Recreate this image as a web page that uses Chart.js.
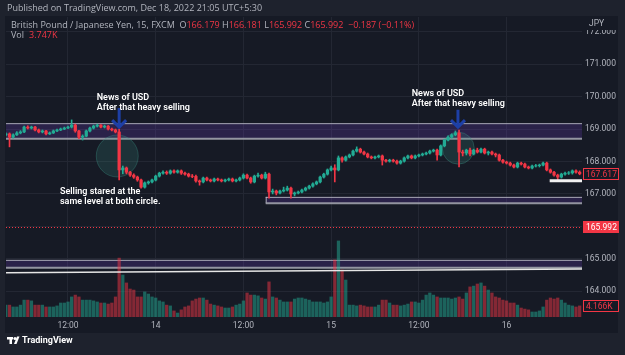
<!DOCTYPE html>
<html>
<head>
<meta charset="utf-8">
<script src="https://cdn.jsdelivr.net/npm/chart.js@4.4.0/dist/chart.umd.min.js"></script>
<style>
  html, body { margin: 0; padding: 0; background: #1e222d; }
  #c { display: block; }
</style>
</head>
<body>
<canvas id="c" width="625" height="355"></canvas>
<script>
var FONT = 'Roboto, "Liberation Sans", sans-serif';
var HEAD_FONT = '"Open Sans", Roboto, sans-serif';

// GBP/JPY, 30 minute candles, starting Dec 13 03:30 (hours counted from Dec 13 00:00)
var startHour = 3.5;
var stepHour = 0.5;

var opens = [168.82,168.85,168.75,168.82,168.88,168.91,169.06,169.03,169.06,168.97,
  168.91,168.94,168.85,168.88,168.94,168.97,169.00,169.03,169.06,169.12,
  168.94,168.75,168.78,168.94,169.03,169.09,169.12,169.06,169.09,169.00,
  168.97,168.91,167.74,167.80,167.67,167.58,167.52,167.43,167.21,167.34,
  167.37,167.43,167.55,167.64,167.67,167.64,167.71,167.67,167.71,167.64,
  167.61,167.55,167.54,167.40,167.37,167.49,167.43,167.40,167.46,167.43,
  167.40,167.43,167.46,167.40,167.43,167.49,167.58,167.49,167.37,167.55,
  167.58,167.49,167.61,167.06,167.09,167.03,167.09,167.12,167.18,167.00,
  167.03,167.06,167.12,167.18,167.24,167.31,167.37,167.52,167.61,167.74,
  167.80,167.74,168.11,168.04,168.14,168.20,168.32,168.38,168.29,168.23,
  168.14,168.11,168.14,168.17,168.04,168.01,168.04,168.01,167.95,168.01,
  168.11,168.17,168.11,168.17,168.20,168.23,168.26,168.32,168.35,168.20,
  168.48,168.66,168.75,168.82,168.88,168.29,168.26,168.35,168.23,168.35,
  168.29,168.38,168.26,168.29,168.23,168.20,168.04,167.98,167.95,167.89,
  167.83,167.95,167.92,167.83,167.80,167.86,167.87,167.89,167.95,167.74,
  167.67,167.58,167.52,167.61,167.64,167.65,167.71,167.67];

var highs = [168.88,168.88,168.85,168.92,168.95,169.09,169.10,169.09,169.08,169.00,
  168.97,168.96,168.91,168.97,169.00,169.03,169.06,169.09,169.28,169.15,
  168.96,168.82,168.97,169.06,169.12,169.15,169.14,169.12,169.11,169.03,
  169.00,169.00,167.86,167.83,167.70,167.62,167.55,167.46,167.37,167.40,
  167.46,167.58,167.67,167.71,167.71,167.74,167.74,167.74,167.74,167.67,
  167.64,167.60,167.58,167.43,167.52,167.52,167.46,167.49,167.49,167.46,
  167.46,167.49,167.49,167.46,167.52,167.62,167.61,167.52,167.58,167.64,
  167.61,167.67,167.64,167.15,167.12,167.12,167.21,167.24,167.21,167.06,
  167.09,167.15,167.21,167.27,167.34,167.40,167.55,167.64,167.77,167.86,
  167.90,168.17,168.14,168.17,168.23,168.35,168.45,168.41,168.32,168.26,
  168.17,168.17,168.20,168.20,168.07,168.07,168.07,168.04,168.04,168.14,
  168.20,168.20,168.20,168.23,168.26,168.29,168.35,168.38,168.38,168.51,
  168.69,168.79,168.85,168.94,168.97,168.35,168.38,168.41,168.38,168.41,
  168.41,168.41,168.32,168.32,168.26,168.23,168.07,168.01,167.98,167.92,
  167.98,167.98,167.95,167.86,167.89,167.91,167.92,167.98,167.98,167.77,
  167.70,167.61,167.64,167.67,167.69,167.74,167.74,167.71];

var lows = [168.79,168.45,168.72,168.80,168.85,168.89,169.00,169.00,168.94,168.88,
  168.88,168.82,168.83,168.86,168.92,168.95,168.98,169.01,169.03,168.90,
  168.70,168.66,168.76,168.91,169.00,169.06,169.03,169.03,168.97,168.94,
  168.88,167.43,167.62,167.62,167.54,167.48,167.39,167.18,167.18,167.30,
  167.34,167.40,167.52,167.61,167.60,167.61,167.64,167.64,167.60,167.58,
  167.52,167.50,167.36,167.27,167.34,167.40,167.37,167.37,167.40,167.37,
  167.37,167.40,167.37,167.37,167.40,167.46,167.46,167.33,167.34,167.52,
  167.46,167.46,166.87,167.00,166.97,167.00,167.06,167.09,166.87,166.94,
  167.00,167.03,167.09,167.15,167.21,167.28,167.34,167.49,167.58,167.71,
  167.37,167.71,167.98,168.01,168.11,168.17,168.29,168.26,168.20,168.11,
  168.08,168.08,168.11,167.89,167.98,167.98,167.98,167.92,167.92,167.98,
  168.08,168.08,168.08,168.14,168.17,168.20,168.23,168.29,168.04,168.17,
  168.45,168.63,168.72,168.79,167.83,168.17,168.20,168.17,168.20,168.26,
  168.26,168.23,168.20,168.20,168.14,168.01,167.95,167.92,167.86,167.80,
  167.80,167.89,167.80,167.77,167.77,167.83,167.83,167.86,167.71,167.64,
  167.55,167.40,167.49,167.58,167.60,167.61,167.64,167.59];

var closes = [168.85,168.75,168.82,168.88,168.91,169.06,169.03,169.06,168.97,168.91,
  168.94,168.85,168.88,168.94,168.97,169.00,169.03,169.06,169.12,168.94,
  168.75,168.78,168.94,169.03,169.09,169.12,169.06,169.09,169.00,168.97,
  168.91,167.74,167.80,167.67,167.58,167.52,167.43,167.21,167.34,167.37,
  167.43,167.55,167.64,167.67,167.64,167.71,167.67,167.71,167.64,167.61,
  167.55,167.54,167.40,167.37,167.49,167.43,167.40,167.46,167.43,167.40,
  167.43,167.46,167.40,167.43,167.49,167.58,167.49,167.37,167.55,167.58,
  167.49,167.61,167.06,167.09,167.03,167.09,167.12,167.18,167.00,167.03,
  167.06,167.12,167.18,167.24,167.31,167.37,167.52,167.61,167.74,167.80,
  167.74,168.11,168.04,168.14,168.20,168.32,168.38,168.29,168.23,168.14,
  168.11,168.14,168.17,168.04,168.01,168.04,168.01,167.95,168.01,168.11,
  168.17,168.11,168.17,168.20,168.23,168.26,168.32,168.35,168.20,168.48,
  168.66,168.75,168.82,168.88,168.29,168.26,168.35,168.23,168.35,168.29,
  168.38,168.26,168.29,168.23,168.20,168.04,167.98,167.95,167.89,167.83,
  167.95,167.92,167.83,167.80,167.86,167.87,167.89,167.95,167.74,167.67,
  167.58,167.52,167.61,167.64,167.65,167.71,167.67,167.62];

// volume in thousands
var volumes = [4.5,4.5,3.8,3.8,4.5,6.4,6.4,6.1,4.5,4.5,
  4.5,3.8,3.8,3.8,4.2,5.3,5.3,5.7,7.6,8.3,
  7.6,6.4,6.4,6.4,6.1,5.7,5.3,5.3,4.9,5.3,
  7.6,22.3,15.9,12.9,10.6,10.2,7.6,7.6,9.5,8.7,
  7.6,7.2,6.1,5.7,4.5,4.2,2.3,1.5,2.7,3.8,
  4.2,6.1,6.8,7.2,7.2,6.4,4.9,4.5,4.2,3.8,
  3.4,3.4,3.8,4.5,4.9,6.1,9.1,8.3,8.3,8.0,
  7.2,6.8,13.3,7.6,7.2,6.4,5.7,5.7,5.7,6.8,
  7.2,7.2,6.8,6.4,5.7,5.7,5.7,5.3,5.7,7.6,
  21.6,28.8,17.8,14.0,4.5,4.5,4.2,4.5,4.2,3.8,
  3.8,3.8,4.5,6.4,6.4,5.3,4.5,4.5,4.2,4.5,
  4.9,5.7,5.7,5.3,6.4,8.3,9.1,8.3,7.6,7.2,
  7.2,7.2,6.8,7.2,7.6,6.8,9.1,11.4,11.7,12.5,
  12.9,11.7,10.2,9.1,7.6,7.2,6.4,6.1,5.3,5.3,
  4.5,3.4,3.0,2.7,1.9,1.9,2.3,3.8,6.4,7.2,
  6.8,7.2,6.4,5.3,4.5,4.2,3.8,4.2];

var priceTicks = [164, 165, 166, 167, 168, 169, 170, 171, 172];
var timeTickHours = [12, 24, 36, 48, 60, 72];
var timeLabels = ['12:00', '14', '12:00', '15', '12:00', '16'];

var hours = closes.map(function (c, i) { return startHour + i * stepHour; });

// drawings on the chart (hour, price)
var zones = [
  { from: null, hi: 169.18, lo: 168.70 },
  { from: 39.05, hi: 166.91, lo: 166.71 },
  { from: null, hi: 164.97, lo: 164.73 }
];
var trendLine = { p1: 164.57, p2: 164.69 };
var supportLine = { from: 77.9, price: 167.41 };
var circles = [{ h: 18.74, p: 168.17, r: 21 }, { h: 65.39, p: 168.41, r: 16 }];
var arrows = [{ h: 19.0, tip: 169.06, tail: 169.65 }, { h: 65.35, tip: 169.06, tail: 169.59 }];
var notes = [
  { h: 15.93, p: 169.95, lines: ['News of USD', 'After that heavy selling'] },
  { h: 59.02, p: 170.10, lines: ['News of USD', 'After that heavy selling'] },
  { h: 10.9, p: 167.07, lines: ['Selling stared at the', 'same level at both circle.'] }
];
var lastPrice = 165.992;
var markPrice = 167.617;
var lastVolume = 4.166;

var UP = '#22ab94', DOWN = '#f23645';
var GRAY = '#b2b5be';

function isUp(i) { return closes[i] >= opens[i]; }

var drawings = {
  id: 'drawings',
  beforeDraw: function (chart) {
    var ctx = chart.ctx;
    ctx.save();
    ctx.fillStyle = '#1e222d';
    ctx.fillRect(0, 0, 625, 355);
    ctx.fillStyle = '#161a25';
    ctx.fillRect(5, 16, 613, 317);
    ctx.restore();
  },
  beforeDatasetsDraw: function (chart) {
    var ctx = chart.ctx, x = chart.scales.x, y = chart.scales.y, a = chart.chartArea;
    ctx.save();
    zones.forEach(function (z) {
      var x0 = z.from === null ? a.left : x.getPixelForValue(z.from);
      var y0 = y.getPixelForValue(z.hi), y1 = y.getPixelForValue(z.lo);
      ctx.fillStyle = 'rgba(103,58,183,0.25)';
      ctx.fillRect(x0, y0, a.right - x0, y1 - y0);
      ctx.strokeStyle = 'rgba(190,192,200,0.85)';
      ctx.lineWidth = 1;
      ctx.beginPath();
      ctx.moveTo(x0, y0 + 0.5); ctx.lineTo(a.right, y0 + 0.5);
      if (z.from !== null) { ctx.moveTo(x0 + 0.5, y0); ctx.lineTo(x0 + 0.5, y1); }
      ctx.stroke();
      ctx.strokeStyle = 'rgba(160,162,172,0.9)';
      ctx.lineWidth = 2;
      ctx.beginPath();
      ctx.moveTo(x0, y1); ctx.lineTo(a.right, y1);
      ctx.stroke();
    });
    circles.forEach(function (c) {
      ctx.beginPath();
      ctx.arc(x.getPixelForValue(c.h), y.getPixelForValue(c.p), c.r, 0, Math.PI * 2);
      ctx.fillStyle = 'rgba(60,150,135,0.2)';
      ctx.fill();
      ctx.strokeStyle = 'rgba(60,150,135,0.35)';
      ctx.lineWidth = 1;
      ctx.stroke();
    });
    ctx.restore();
  },
  afterDatasetsDraw: function (chart) {
    var ctx = chart.ctx, x = chart.scales.x, y = chart.scales.y, a = chart.chartArea;
    ctx.save();
    // sloping line under the lower box
    ctx.strokeStyle = '#e6e6e6';
    ctx.lineWidth = 1.5;
    ctx.beginPath();
    ctx.moveTo(a.left, y.getPixelForValue(trendLine.p1));
    ctx.lineTo(a.right, y.getPixelForValue(trendLine.p2));
    ctx.stroke();
    // short white level on the right
    ctx.lineWidth = 3;
    ctx.strokeStyle = '#f0f0f0';
    ctx.beginPath();
    var sy = y.getPixelForValue(supportLine.price);
    ctx.moveTo(x.getPixelForValue(supportLine.from), sy);
    ctx.lineTo(a.right, sy);
    ctx.stroke();
    // last price line
    var ly = Math.round(y.getPixelForValue(lastPrice)) + 0.5;
    ctx.strokeStyle = DOWN;
    ctx.lineWidth = 1;
    ctx.setLineDash([1, 2]);
    ctx.beginPath();
    ctx.moveTo(a.left, ly); ctx.lineTo(a.right, ly);
    ctx.stroke();
    ctx.setLineDash([]);
    // arrows
    ctx.strokeStyle = '#1d3fa6';
    ctx.lineWidth = 3;
    arrows.forEach(function (ar) {
      var ax = x.getPixelForValue(ar.h), t = y.getPixelForValue(ar.tip), s = y.getPixelForValue(ar.tail);
      ctx.beginPath();
      ctx.moveTo(ax, s); ctx.lineTo(ax, t - 1);
      ctx.moveTo(ax - 7, t - 7); ctx.lineTo(ax, t); ctx.lineTo(ax + 7, t - 7);
      ctx.stroke();
    });
    // text notes
    ctx.fillStyle = '#ffffff';
    ctx.font = '600 9px ' + FONT;
    ctx.textBaseline = 'middle';
    ctx.textAlign = 'left';
    notes.forEach(function (n) {
      var nx = x.getPixelForValue(n.h), ny = y.getPixelForValue(n.p);
      n.lines.forEach(function (t, k) { ctx.fillText(t, nx, ny + k * 10); });
    });
    ctx.restore();
  },
  afterDraw: function (chart) {
    var ctx = chart.ctx, y = chart.scales.y, yv = chart.scales.yv, a = chart.chartArea;
    ctx.save();
    ctx.textBaseline = 'middle';
    ctx.textAlign = 'left';
    ctx.font = '9px ' + HEAD_FONT;
    ctx.fillStyle = GRAY;
    ctx.fillText('Published on TradingView.com, Dec 18, 2022 21:05 UTC+5:30', 7, 8);

    // legend
    var parts = [
      ['British Pound / Japanese Yen, 15, FXCM  ', GRAY], ['O', GRAY], ['166.179', DOWN],
      [' H', GRAY], ['166.181', DOWN], [' L', GRAY], ['165.992', DOWN],
      [' C', GRAY], ['165.992', DOWN], ['  \u22120.187 (\u22120.11%)', DOWN]
    ];
    var lx = 11;
    parts.forEach(function (p) {
      ctx.fillStyle = p[1];
      ctx.fillText(p[0], lx, 25);
      lx += ctx.measureText(p[0]).width;
    });
    ctx.fillStyle = GRAY;
    ctx.fillText('Vol', 11, 35);
    ctx.fillStyle = DOWN;
    ctx.fillText('3.747K', 11 + ctx.measureText('Vol').width + 5, 35);

    // JPY over the top of the price scale
    ctx.fillStyle = '#161a25';
    ctx.fillRect(a.right + 1, 17, 34, 13);
    ctx.fillStyle = GRAY;
    ctx.font = '8.5px ' + FONT;
    ctx.fillText('JPY', 589, 24);

    // price scale labels
    function box(val, yy, filled) {
      var by = Math.round(yy) - 6;
      if (filled) {
        ctx.fillStyle = DOWN;
        ctx.fillRect(a.right + 1, by, 36, 12);
        ctx.fillStyle = '#ffffff';
      } else {
        ctx.fillStyle = '#161a25';
        ctx.fillRect(a.right + 1, by, 36, 12);
        ctx.strokeStyle = DOWN;
        ctx.lineWidth = 1;
        ctx.strokeRect(a.right + 1.5, by + 0.5, 35, 11);
        ctx.fillStyle = DOWN;
      }
      ctx.fillText(val, a.right + 4, by + 6.5);
    }
    box(markPrice.toFixed(3), y.getPixelForValue(markPrice), false);
    box(lastPrice.toFixed(3), y.getPixelForValue(lastPrice), true);
    box(lastVolume.toFixed(3) + 'K', yv.getPixelForValue(lastVolume), false);

    // footer logo
    ctx.fillStyle = '#ffffff';
    ctx.fillRect(7, 337, 6, 2.5);
    ctx.fillRect(9.5, 337, 2.5, 7);
    ctx.beginPath();
    ctx.arc(15, 338.5, 1.6, 0, Math.PI * 2);
    ctx.fill();
    ctx.beginPath();
    ctx.moveTo(14, 344); ctx.lineTo(17, 336.5); ctx.lineTo(19.5, 336.5); ctx.lineTo(16.5, 344);
    ctx.closePath();
    ctx.fill();
    ctx.font = 'bold 9px ' + FONT;
    ctx.fillText('TradingView', 22, 340.5);
    ctx.restore();
  }
};

new Chart(document.getElementById('c'), {
  type: 'bar',
  data: {
    datasets: [{
      label: 'body',
      data: closes.map(function (c, i) { return { x: hours[i], y: [opens[i], c] }; }),
      backgroundColor: function (c) { return isUp(c.dataIndex) ? UP : DOWN; },
      barThickness: 2.6,
      grouped: false,
      yAxisID: 'y',
      order: 1
    }, {
      label: 'wick',
      data: highs.map(function (h, i) { return { x: hours[i], y: [lows[i], h] }; }),
      backgroundColor: function (c) { return isUp(c.dataIndex) ? UP : DOWN; },
      barThickness: 1,
      grouped: false,
      yAxisID: 'y',
      order: 2
    }, {
      label: 'volume',
      data: volumes.map(function (v, i) { return { x: hours[i], y: v }; }),
      backgroundColor: function (c) { return isUp(c.dataIndex) ? 'rgba(34,171,148,0.5)' : 'rgba(242,54,69,0.5)'; },
      barThickness: 2.6,
      grouped: false,
      yAxisID: 'yv',
      order: 3
    }]
  },
  options: {
    responsive: false,
    animation: false,
    events: [],
    layout: { padding: { left: 6, top: 17, right: 7, bottom: 22 } },
    plugins: {
      legend: { display: false },
      tooltip: { enabled: false }
    },
    scales: {
      x: {
        type: 'linear',
        min: 3.52,
        max: 82.32,
        offset: false,
        afterFit: function (s) { s.height = 16; },
        afterBuildTicks: function (s) { s.ticks = timeTickHours.map(function (v) { return { value: v }; }); },
        grid: { color: '#232733', drawTicks: false, offset: false },
        border: { display: false },
        ticks: {
          padding: 4,
          color: GRAY,
          font: { size: 8.5, family: FONT },
          maxRotation: 0,
          autoSkip: false,
          callback: function (v, i) { return timeLabels[i]; }
        }
      },
      y: {
        position: 'right',
        min: 163.21,
        max: 172.45,
        afterFit: function (s) { s.width = 36; },
        afterBuildTicks: function (s) { s.ticks = priceTicks.map(function (v) { return { value: v }; }); },
        grid: { color: '#232733', drawTicks: false },
        border: { display: false },
        ticks: {
          padding: 3,
          color: GRAY,
          font: { size: 8.5, family: FONT },
          callback: function (v) { return v.toFixed(3); }
        }
      },
      yv: {
        display: false,
        min: 0,
        max: 113.6
      }
    }
  },
  plugins: [drawings]
});
</script>
</body>
</html>
